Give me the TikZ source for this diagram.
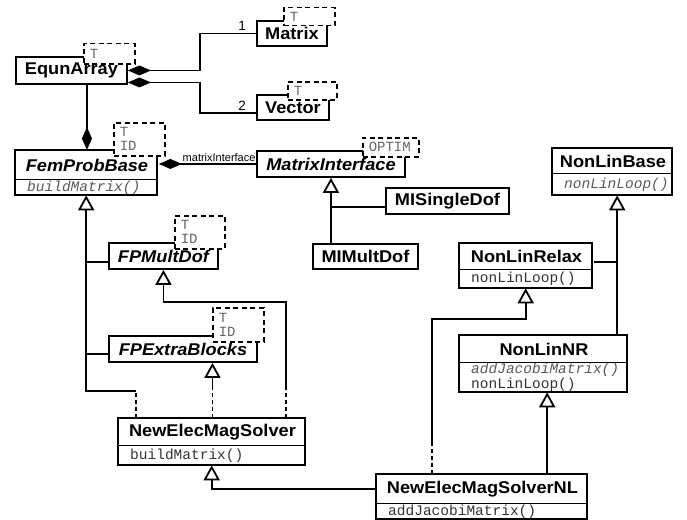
\documentclass[tikz,border=0pt]{standalone}
\usepackage{fontspec}
\usepackage{tikz}
\usetikzlibrary{arrows.meta}
\setmainfont{Liberation Sans}
\newfontfamily\clsfont[FakeStretch=1.07]{Liberation Sans}
\newfontfamily\methfont{Liberation Mono}
\definecolor{methgray}{gray}{0.2}
\definecolor{absgray}{gray}{0.35}
\definecolor{tmplgray}{gray}{0.4}

\begin{document}
\begin{tikzpicture}[x=1pt, y=-1pt,
    cls/.style={draw, line width=1.9pt, fill=white, anchor=north west, inner sep=0pt,
      font=\clsfont\fontsize{17}{20}\selectfont\bfseries},
    abscls/.style={cls, font=\clsfont\fontsize{17}{20}\selectfont\bfseries\itshape},
    head/.style={draw=none},
    meth/.style={anchor=north west, fill=white, inner xsep=12pt, inner ysep=0pt, align=left,
      font=\methfont\fontsize{14.5}{15}\selectfont, text=methgray},
    boxframe/.style={line width=1.9pt},
    divider/.style={line width=0.9pt},
    tmpl/.style={draw, line width=1.5pt, dash pattern=on 5pt off 3.5pt, fill=white,
      anchor=north west, inner xsep=6pt, inner ysep=0pt, align=left, text=tmplgray,
      font=\methfont\fontsize{14}{14}\selectfont},
    mult/.style={font=\fontsize{13.5}{14}\selectfont, inner sep=2pt},
    role/.style={font=\fontsize{11}{12}\selectfont, inner sep=1.5pt},
    comp/.style={line width=1.8pt, -{Diamond[length=23pt,width=10pt]}},
    inh/.style={line width=1.8pt, -{Triangle[open,length=15pt,width=16pt]}},
    impl/.style={line width=1.8pt, dash pattern=on 4pt off 3pt}]
  \useasboundingbox (0,0) rectangle (687,519);

  % classes
  \node[cls, minimum width=111, minimum height=27] (eqa) at (15,56) {EqunArray};
  \node[cls, minimum width=70, minimum height=25] (mat) at (256,20) {Matrix};
  \node[cls, minimum width=72, minimum height=25] (vec) at (256,94) {Vector};
  \node[abscls, head, minimum width=142, minimum height=28] (fpb) at (15,150) {FemProbBase};
  \node[meth, text width=118, minimum height=15] (fpbm) at (fpb.south west) {\itshape\color{absgray}buildMatrix()};
  \node[abscls, minimum width=148, minimum height=26] (mi) at (256,150) {MatrixInterface};
  \node[cls, minimum width=123, minimum height=26] (misd) at (385,187) {MISingleDof};
  \node[cls, minimum width=105, minimum height=25] (mim) at (312,243) {MIMultDof};
  \node[abscls, minimum width=109, minimum height=26] (fpmd) at (108,242) {FPMultDof};
  \node[abscls, minimum width=148, minimum height=26] (fpeb) at (108,335) {FPExtraBlocks};
  \node[cls, head, minimum width=187, minimum height=26] (nem) at (118,418) {NewElecMagSolver};
  \node[meth, text width=163, minimum height=19] (nemm) at (nem.south west) {buildMatrix()};
  \node[cls, head, minimum width=211, minimum height=28] (nemnl) at (376,474) {NewElecMagSolverNL};
  \node[meth, text width=187, minimum height=15] (nemnlm) at (nemnl.south west) {addJacobiMatrix()};
  \node[cls, head, minimum width=120, minimum height=24] (nlb) at (552,148) {NonLinBase};
  \node[meth, text width=96, minimum height=21] (nlbm) at (nlb.south west) {\itshape\color{absgray}nonLinLoop()};
  \node[cls, head, minimum width=133, minimum height=25] (nlr) at (459,243) {NonLinRelax};
  \node[meth, text width=109, minimum height=18] (nlrm) at (nlr.south west) {nonLinLoop()};
  \node[cls, head, minimum width=168, minimum height=26] (nlnr) at (459,335) {NonLinNR};
  \node[meth, text width=144, minimum height=29] (nlnrm) at (nlnr.south west) {{\itshape\color{absgray}addJacobiMatrix()}\\nonLinLoop()};

  % compartments
  \draw[divider] (fpbm.north west) -- (fpbm.north east);
  \draw[boxframe] (fpb.north west) rectangle (fpbm.south east);
  \draw[divider] (nemm.north west) -- (nemm.north east);
  \draw[boxframe] (nem.north west) rectangle (nemm.south east);
  \draw[divider] (nemnlm.north west) -- (nemnlm.north east);
  \draw[boxframe] (nemnl.north west) rectangle (nemnlm.south east);
  \draw[divider] (nlbm.north west) -- (nlbm.north east);
  \draw[boxframe] (nlb.north west) rectangle (nlbm.south east);
  \draw[divider] (nlrm.north west) -- (nlrm.north east);
  \draw[boxframe] (nlr.north west) rectangle (nlrm.south east);
  \draw[divider] (nlnrm.north west) -- (nlnrm.north east);
  \draw[boxframe] (nlnr.north west) rectangle (nlnrm.south east);

  % template parameters
  \node[tmpl, text width=39, minimum height=20] (eqat) at (83,43) {T};
  \node[tmpl, text width=39, minimum height=18] (matt) at (283,7) {T};
  \node[tmpl, text width=37, minimum height=18] (vect) at (287,81) {T};
  \node[tmpl, text width=39, minimum height=33] (fpbt) at (113,122) {T\\ID};
  \node[tmpl, text width=44, minimum height=19] (mit) at (362,137) {OPTIM};
  \node[tmpl, text width=38, minimum height=33] (fpmdt) at (174,215) {T\\ID};
  \node[tmpl, text width=39, minimum height=34] (fpebt) at (212,307) {T\\ID};

  % compositions
  \draw[comp] (mat.west) -- ++(-56,0) node[pos=0.25, above, mult] {1} |- (eqa.east);
  \draw[comp] ([yshift=-5.5pt]vec.west) -- ++(-56,0) node[pos=0.25, above, mult] {2} |- ([yshift=-12pt]eqa.east);
  \draw[comp] (eqa.south -| fpb.north) -- (fpb.north);
  \draw[comp] (mi.west) -- (mi.west -| fpb.east) node[pos=0.38, above, role] {matrixInterface};

  % generalisations
  \draw[inh] (mi.south |- mim.north) -- (mi.south);
  \draw[line width=1.8pt] ([yshift=-6pt]misd.west) -- ([yshift=-6pt]misd.west -| mi.south);
  \draw[inh] ([xshift=5pt]nlbm.south |- nlnr.north) -- ([xshift=5pt]nlbm.south);
  \draw[line width=1.8pt] ([yshift=-5.5pt]nlr.east) -- ([xshift=5pt,yshift=-5.5pt]nlr.east -| nlbm.south);
  \draw[impl] ([xshift=18pt]nem.north west) -- ++(0,-27);
  \draw[inh] ([xshift=18pt,yshift=27pt]nem.north west) -| (fpbm.south);
  \draw[line width=1.8pt] ([yshift=-6pt]fpmd.west) -- ([yshift=-6pt]fpmd.west -| fpbm.south);
  \draw[line width=1.8pt] ([yshift=-5pt]fpeb.west) -- ([yshift=-5pt]fpeb.west -| fpbm.south);
  \draw[impl] ([xshift=-21pt]nem.north east) -- ++(0,-28);
  \draw[inh] ([xshift=-21pt,yshift=28pt]nem.north east) |- ([yshift=-32pt]fpmd.south) -- (fpmd.south);
  \draw[impl] (nem.north) -- ++(0,-28);
  \draw[inh] ([yshift=28pt]nem.north) -- (nem.north |- fpeb.south);
  \draw[inh] (nemnl.west) -| (nemm.south);
  \draw[inh] ([xshift=4pt]nlnrm.south |- nemnl.north) -- ([xshift=4pt]nlnrm.south);
  \draw[impl] ([xshift=56pt]nemnl.north west) -- ++(0,-29);
  \draw[inh] ([xshift=56pt,yshift=29pt]nemnl.north west) |- ([yshift=-31pt]nlrm.south) -- (nlrm.south);
\end{tikzpicture}
\end{document}
